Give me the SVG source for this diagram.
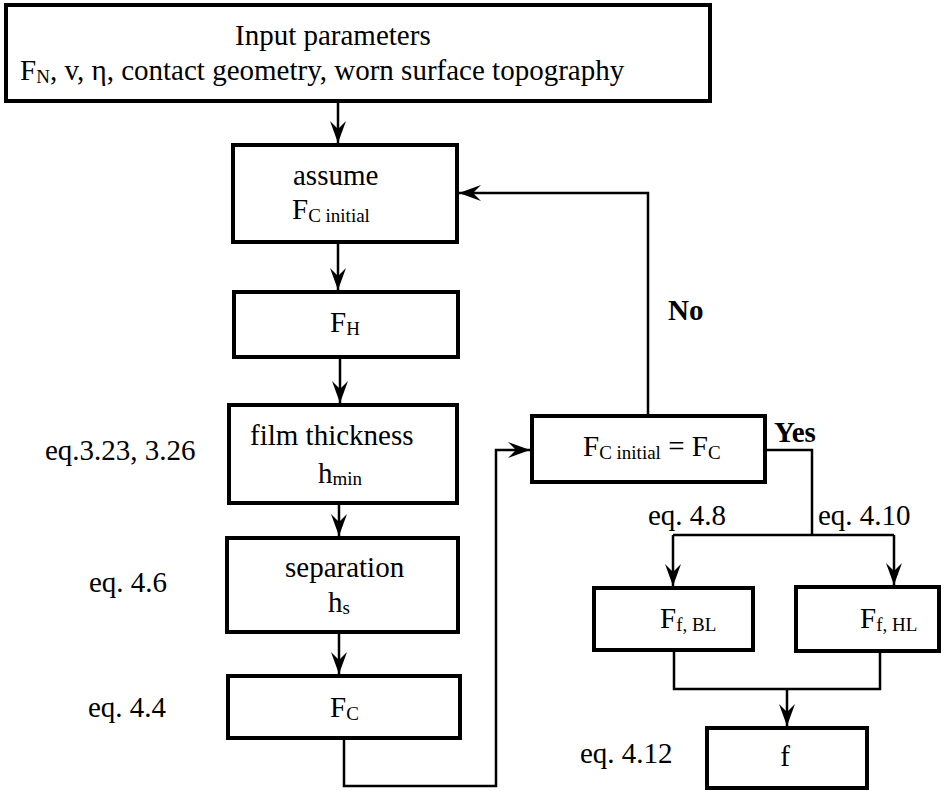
<svg xmlns="http://www.w3.org/2000/svg" width="951" height="791" viewBox="0 0 951 791" font-family="'Liberation Serif', 'Times New Roman', Times, serif">
  <style>
    .box { fill: #fff; stroke: #000; stroke-width: 4; }
    .wire { fill: none; stroke: #000; stroke-width: 2.5; }
    .t { font-family: 'Liberation Serif', 'Times New Roman', Times, serif; font-size: 29px; fill: #000; }
    .sub { font-size: 19px; }
    .bold { font-weight: bold; }
  </style>
  <defs>
    <!-- barbed arrowhead shared by all connectors -->
    <marker id="arrow" markerUnits="userSpaceOnUse" markerWidth="24" markerHeight="18" refX="22" refY="8" orient="auto">
      <path d="M0,0 L22,8 L0,16 L8,8 Z" fill="#000"/>
    </marker>
  </defs>

  <!-- connectors -->
  <g id="connectors">
    <path class="wire" d="M338,101 V143" marker-end="url(#arrow)"/>
    <path class="wire" d="M338,242 V290" marker-end="url(#arrow)"/>
    <path class="wire" d="M340,357 V403" marker-end="url(#arrow)"/>
    <path class="wire" d="M339,503 V536" marker-end="url(#arrow)"/>
    <path class="wire" d="M339,632 V674" marker-end="url(#arrow)"/>
    <path class="wire" d="M344,738 V786 H496 V450 H530" marker-end="url(#arrow)"/>
    <path class="wire" d="M648,416 V193 H459" marker-end="url(#arrow)"/>
    <path class="wire" d="M765,450 H812 V535"/>
    <path class="wire" d="M673,535 H894"/>
    <path class="wire" d="M673,535 V586" marker-end="url(#arrow)"/>
    <path class="wire" d="M894,535 V585" marker-end="url(#arrow)"/>
    <path class="wire" d="M674,650 V689 H880 V651"/>
    <path class="wire" d="M787,689 V726" marker-end="url(#arrow)"/>
  </g>

  <!-- input parameters -->
  <g id="input">
    <rect class="box" x="6" y="5" width="704" height="96"/>
    <text class="t" x="235" y="45">Input parameters</text>
    <text class="t" x="20" y="80">F<tspan class="sub" dy="3">N</tspan><tspan dy="-3">, v, η, contact geometry, worn surface topography</tspan></text>
  </g>

  <g id="assume">
    <rect class="box" x="233" y="145" width="224" height="97"/>
    <text class="t" x="293" y="185">assume</text>
    <text class="t" x="292" y="219">F<tspan class="sub" dy="3">C initial</tspan></text>
  </g>

  <g id="fh">
    <rect class="box" x="234" y="292" width="224" height="65"/>
    <text class="t" x="330" y="332">F<tspan class="sub" dy="3">H</tspan></text>
  </g>

  <g id="film">
    <rect class="box" x="229" y="405" width="228" height="98"/>
    <text class="t" x="250" y="445">film thickness</text>
    <text class="t" x="318" y="483">h<tspan class="sub" dy="2">min</tspan></text>
    <text class="t" x="45" y="460">eq.3.23, 3.26</text>
  </g>

  <g id="separation">
    <rect class="box" x="227" y="538" width="231" height="94"/>
    <text class="t" x="285" y="577">separation</text>
    <text class="t" x="328" y="612">h<tspan class="sub" dy="2">s</tspan></text>
    <text class="t" x="89" y="592">eq. 4.6</text>
  </g>

  <g id="fc">
    <rect class="box" x="228" y="676" width="232" height="62"/>
    <text class="t" x="330" y="717">F<tspan class="sub" dy="3">C</tspan></text>
    <text class="t" x="88" y="717">eq. 4.4</text>
  </g>

  <g id="check">
    <rect class="box" x="532" y="416" width="233" height="66"/>
    <text class="t" x="583" y="456">F<tspan class="sub" dy="3">C initial</tspan><tspan dy="-3"> = F</tspan><tspan class="sub" dy="3">C</tspan></text>
    <text class="t bold" x="668" y="320">No</text>
    <text class="t bold" x="774" y="442">Yes</text>
  </g>

  <g id="fbl">
    <rect class="box" x="594" y="588" width="159" height="62"/>
    <text class="t" x="660" y="628">F<tspan class="sub" dy="3">f, BL</tspan></text>
    <text class="t" x="648" y="525">eq. 4.8</text>
  </g>

  <g id="fhl">
    <rect class="box" x="796" y="587" width="143" height="64"/>
    <text class="t" x="860" y="628">F<tspan class="sub" dy="3">f, HL</tspan></text>
    <text class="t" x="818" y="525">eq. 4.10</text>
  </g>

  <g id="f">
    <rect class="box" x="707" y="728" width="160" height="60"/>
    <text class="t" x="785" y="766" text-anchor="middle">f</text>
    <text class="t" x="580" y="763">eq. 4.12</text>
  </g>
</svg>
